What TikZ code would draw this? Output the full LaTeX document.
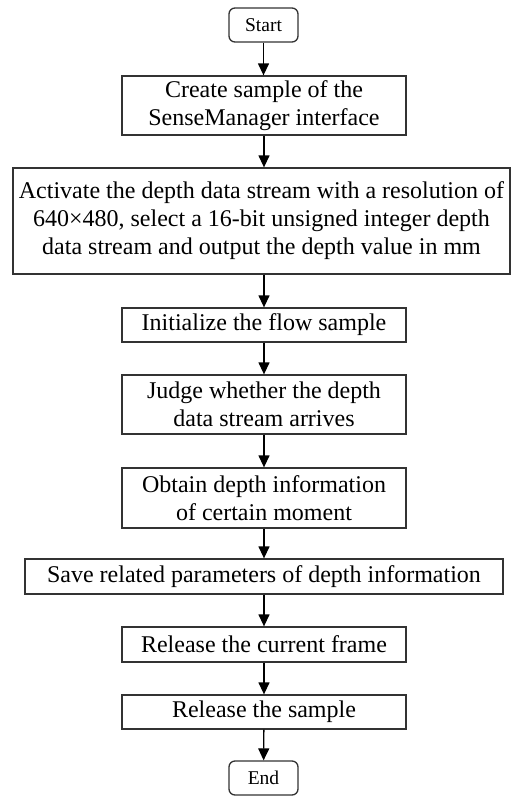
\documentclass[tikz,border=0pt]{standalone}
\usepackage{fontspec}
\setmainfont{Liberation Serif}
\usetikzlibrary{arrows.meta}
\begin{document}
\begin{tikzpicture}[x=1pt,y=-1pt,
  box/.style={draw=black!80,line width=1.3pt,inner sep=0pt,align=center,
    font=\fontsize{24}{28}\selectfont},
  term/.style={box,rounded corners=6pt,minimum width=69pt,minimum height=34pt,
    font=\fontsize{19.5}{23}\selectfont},
  mid/.style={box,minimum width=284pt},
  arr/.style={line width=1.3pt,-{Triangle[length=12pt,width=11pt]}}]
\useasboundingbox (0,0) rectangle (511,796);
\node[term] (start) at (263.5,25) {Start};
\node[mid,minimum height=59pt] (b1) at (264,105.5) {Create sample of the\\SenseManager interface};
\node[box,minimum width=497pt,minimum height=106pt] (b2) at (261.5,221)
  {Activate the depth data stream with a resolution of\\640×480, select a 16-bit unsigned integer depth\\data stream and output the depth value in mm};
\node[mid,minimum height=34pt] (b3) at (264,325) {Initialize the flow sample};
\node[mid,minimum height=59pt] (b4) at (264,404.5) {Judge whether the depth\\data stream arrives};
\node[mid,minimum height=60pt] (b5) at (264,498) {Obtain depth information\\of certain moment};
\node[box,minimum width=478pt,minimum height=35pt] (b6) at (264,576.5) {Save related parameters of depth information};
\node[mid,minimum height=35pt] (b7) at (264,644.5) {Release the current frame};
\node[mid,minimum height=34pt] (b8) at (264,712) {Release the sample};
\node[term] (end) at (263.5,778) {End};
\draw[arr] (start) -- (start |- b1.north);
\draw[arr] (b1) -- (b1 |- b2.north);
\draw[arr] (b2.south -| b3) -- (b3);
\draw[arr] (b3) -- (b4);
\draw[arr] (b4) -- (b5);
\draw[arr] (b5) -- (b6);
\draw[arr] (b6) -- (b7);
\draw[arr] (b7) -- (b8);
\draw[arr] (b8) -- (end);
\end{tikzpicture}
\end{document}
